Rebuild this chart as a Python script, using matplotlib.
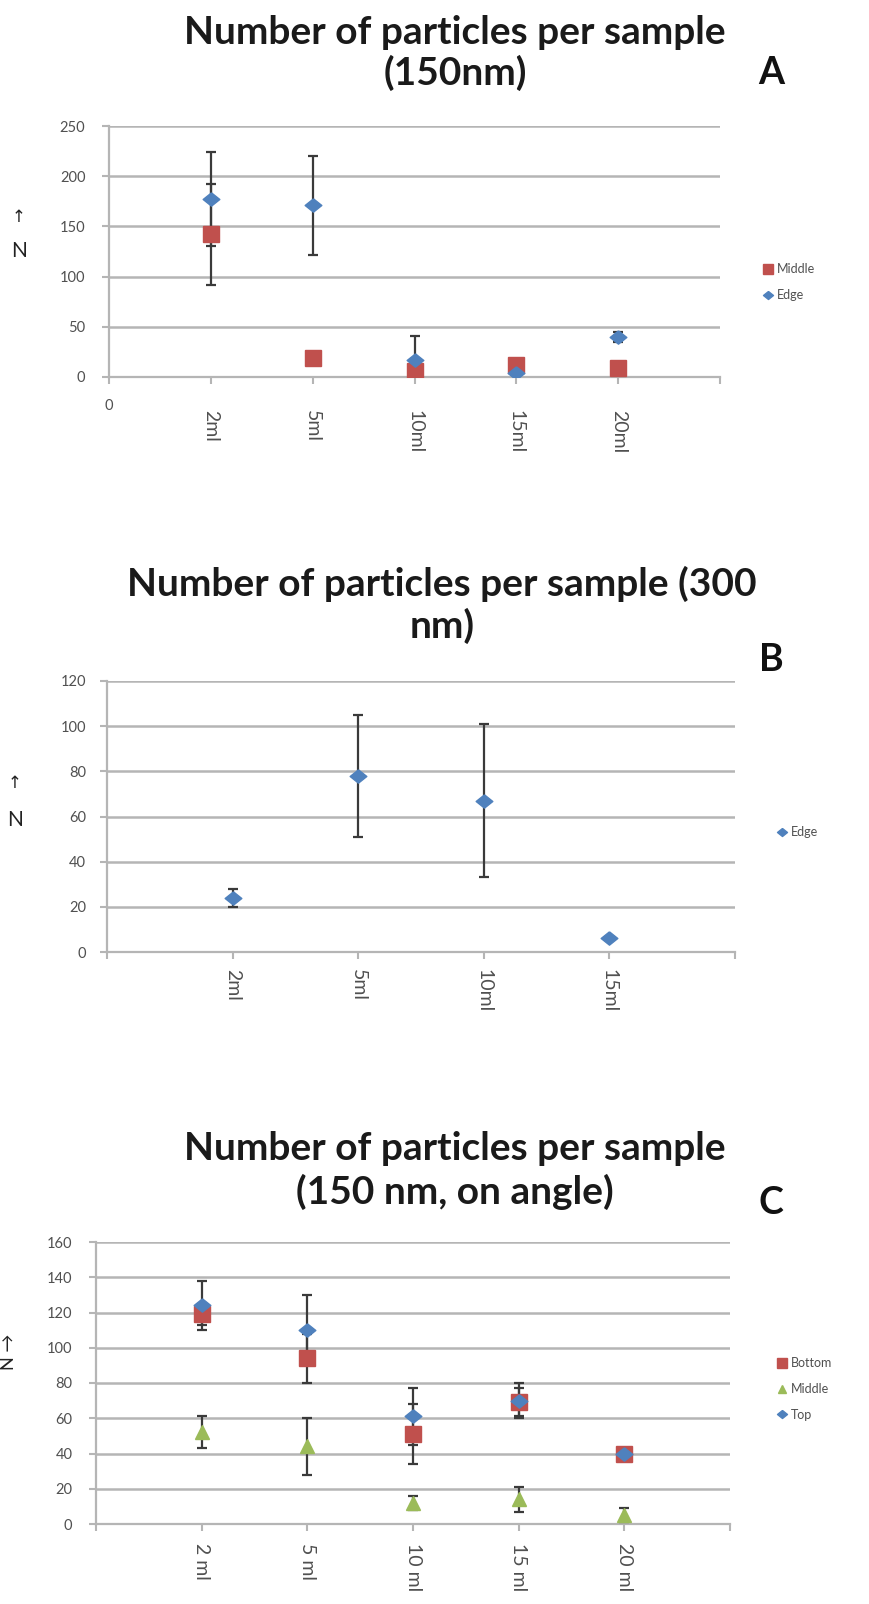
import matplotlib.pyplot as plt
from matplotlib.lines import Line2D

plt.rcParams['font.family'] = ['Lato', 'DejaVu Sans']

# ---- data ----
vol_a = ['2ml', '5ml', '10ml', '15ml', '20ml']
a_middle = [142, 19, 6, 12, 9]
a_middle_err = [50, 0, 0, 0, 0]
a_edge = [177, 171, 17, 4, 40]
a_edge_err = [47, 49, 24, 0, 5]

vol_b = ['2ml', '5ml', '10ml', '15ml']
b_edge = [24, 78, 67, 6]
b_edge_err = [4, 27, 34, 0]

vol_c = ['2 ml', '5 ml', '10 ml', '15 ml', '20 ml']
c_bottom = [119, 94, 51, 69, 40]
c_bottom_err = [6, 14, 17, 8, 0]
c_middle = [52, 44, 12, 14, 5]
c_middle_err = [9, 16, 4, 7, 4]
c_top = [124, 110, 61, 70, 40]
c_top_err = [14, 20, 16, 10, 0]

BLUE = '#4F81BD'
RED = '#C0504D'
GREEN = '#9BBB59'
GRID = '#B5B5B5'
TXT = '#505050'
DIAMOND = [(0, 1), (1.25, 0), (0, -1), (-1.25, 0), (0, 1)]
MARKERS = {'square': ('s', 11), 'diamond': (DIAMOND, 12), 'triangle': ('^', 10)}

W, H = 869, 1604
fig = plt.figure(figsize=(W / 100, H / 100), dpi=100)


def px_axes(left, right, top, bottom):
    """axes from pixel box (x of x-axis ends, y of top/bottom gridline)"""
    return fig.add_axes([left / W, 1 - bottom / H, (right - left) / W, (bottom - top) / H])


def plot_series(ax, values, errs, color, shape):
    marker, ms = MARKERS[shape]
    x = list(range(1, len(values) + 1))
    ax.errorbar(x, values, yerr=errs, fmt='none', ecolor='#3a3a3a',
                elinewidth=1.6, capsize=3.5, capthick=1.6, zorder=3)
    ax.plot(x, values, linestyle='none', marker=marker, ms=ms, color=color,
            markeredgecolor=color, zorder=4)


def style(ax, labels, xmax, ymax, ystep, xpad, ypad):
    ax.set_xlim(0, xmax)
    ax.set_ylim(0, ymax)
    ax.set_xticks(range(1, len(labels) + 1))
    ax.set_xticks([0, xmax], minor=True)
    ax.set_xticklabels(labels, rotation=270, fontsize=14, color=TXT)
    ax.set_yticks(range(0, ymax + 1, ystep))
    ax.tick_params(axis='y', labelsize=10.5, labelcolor=TXT, color=GRID,
                   length=5, width=1.5, pad=ypad)
    ax.tick_params(axis='x', which='both', color=GRID, length=5, width=1.5, pad=xpad)
    ax.grid(axis='y', color=GRID, linewidth=1.8)
    ax.set_axisbelow(True)
    for side in ['top', 'right']:
        ax.spines[side].set_visible(False)
    for side in ['left', 'bottom']:
        ax.spines[side].set_color(GRID)
        ax.spines[side].set_linewidth(1.6)


def legend(ax, entries, x, y, spacing):
    handles = []
    for label, color, shape in entries:
        marker, ms = MARKERS[shape]
        handles.append(Line2D([], [], linestyle='none', marker=marker, ms=ms * 0.6,
                              color=color, label=label))
    ax.legend(handles=handles, loc='center left', bbox_to_anchor=(x / W, 1 - y / H),
              bbox_transform=fig.transFigure, frameon=False, fontsize=9,
              labelcolor=TXT, handlelength=0.7, handletextpad=0.3,
              labelspacing=spacing, borderpad=0, borderaxespad=0)


def title(lines, ys, letter, letter_y, x=455):
    for text, y in zip(lines, ys):
        fig.text(x / W, 1 - y / H, text, ha='center', va='center',
                 fontsize=28, fontweight='bold', color='#1a1a1a')
    fig.text(771 / W, 1 - letter_y / H, letter, ha='center', va='center',
             fontsize=27, fontweight='bold', color='#111111')


def n_label(x, y_arrow, y_n):
    fig.text(x / W, 1 - y_arrow / H, '\u2191', ha='center', va='center',
             fontsize=12, color='#222222', family='DejaVu Sans')
    fig.text(x / W, 1 - y_n / H, 'N', ha='center', va='center',
             fontsize=15, color='#222222')


# ---- panel A ----
ax_a = px_axes(109, 720, 126, 377)
plot_series(ax_a, a_middle, a_middle_err, RED, 'square')
plot_series(ax_a, a_edge, a_edge_err, BLUE, 'diamond')
style(ax_a, vol_a, 6, 250, 50, xpad=19, ypad=12)
ax_a.annotate('0', xy=(0, 0), xytext=(0, -21), textcoords='offset points',
              ha='center', va='center', fontsize=10.5, color=TXT)
legend(ax_a, [('Middle', RED, 'square'), ('Edge', BLUE, 'diamond')], 764, 282, 1.1)
title(['Number of particles per sample', '(150nm)'], [33, 73], 'A', 73)
n_label(19, 217, 251)

# ---- panel B ----
ax_b = px_axes(107, 735, 681, 952)
plot_series(ax_b, b_edge, b_edge_err, BLUE, 'diamond')
style(ax_b, vol_b, 5, 120, 20, xpad=7, ypad=10)
legend(ax_b, [('Edge', BLUE, 'diamond')], 778, 832, 1.1)
title(['Number of particles per sample (300', 'nm)'], [584, 626], 'B', 660, x=442)
n_label(15, 783, 820)

# ---- panel C ----
ax_c = px_axes(96, 730, 1242, 1524)
plot_series(ax_c, c_bottom, c_bottom_err, RED, 'square')
plot_series(ax_c, c_middle, c_middle_err, GREEN, 'triangle')
plot_series(ax_c, c_top, c_top_err, BLUE, 'diamond')
style(ax_c, vol_c, 6, 160, 20, xpad=9, ypad=12)
legend(ax_c, [('Bottom', RED, 'square'), ('Middle', GREEN, 'triangle'),
              ('Top', BLUE, 'diamond')], 778, 1389, 1.1)
title(['Number of particles per sample', '(150 nm, on angle)'], [1148, 1192], 'C', 1203)
fig.text(9 / W, 1 - 1352 / H, 'N \u2192', rotation=90, ha='center', va='center',
         fontsize=13, color='#222222', family=['Lato', 'DejaVu Sans'])

fig.savefig('out.png', dpi=100, facecolor='white')
